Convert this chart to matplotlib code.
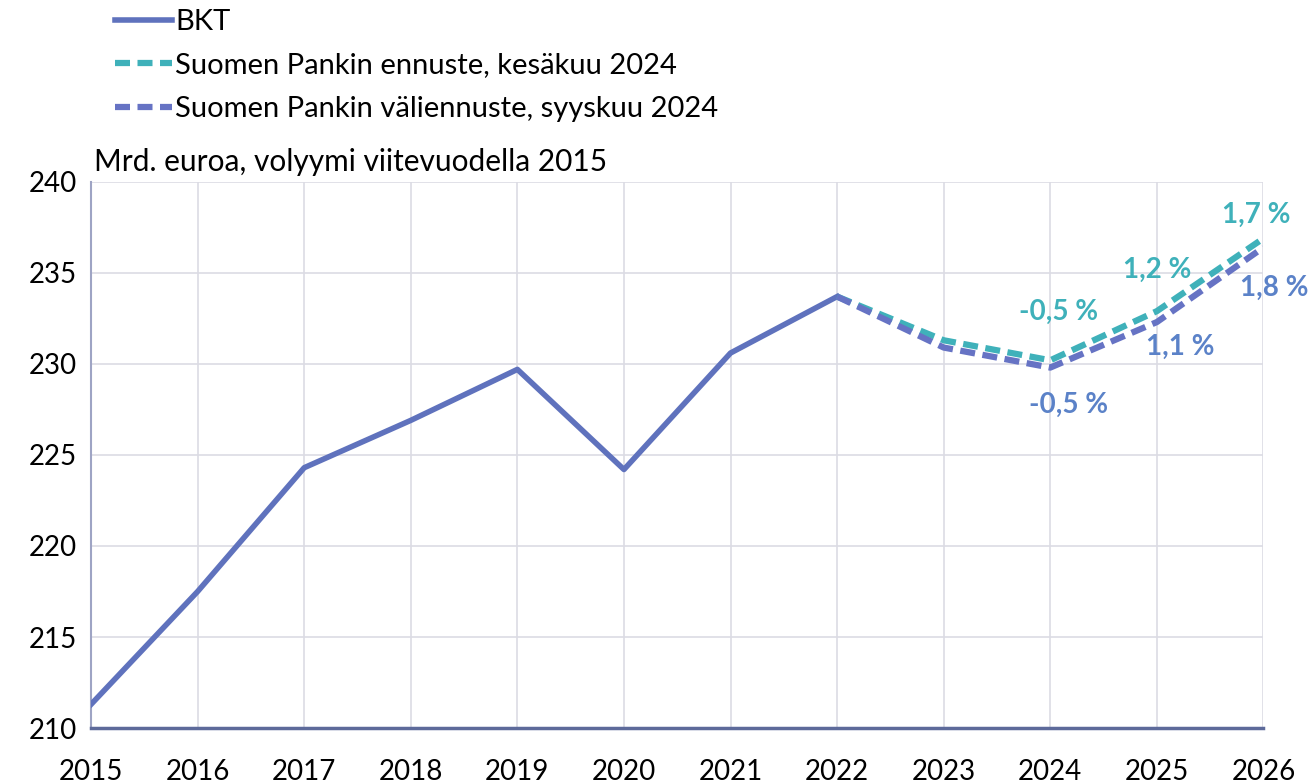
import numpy as np
import matplotlib.pyplot as plt

plt.rcParams['font.family'] = ['Lato', 'DejaVu Sans']

years = [2015, 2016, 2017, 2018, 2019, 2020, 2021, 2022]
bkt = [211.3, 217.5, 224.3, 226.9, 229.7, 224.2, 230.6, 233.7]

fc_years = [2022, 2023, 2024, 2025, 2026]
june = [233.7, 231.3, 230.2, 232.9, 236.9]
sept = [233.7, 230.9, 229.8, 232.3, 236.4]

lab_years = [2024, 2025, 2026]
june_labels = ['-0,5 %', '1,2 %', '1,7 %']
sept_labels = ['-0,5 %', '1,1 %', '1,8 %']

c_bkt = '#5f72bd'
c_june = '#3fb1ba'
c_sept = '#6673c4'
c_sept_txt = '#5b82c8'

fig = plt.figure(figsize=(13.12, 7.84), dpi=100)
ax = fig.add_axes([0.0694, 0.0714, 0.8936, 0.6966])

ax.plot(years, bkt, color=c_bkt, lw=4, label='BKT', zorder=3)
ax.plot(fc_years, june, color=c_june, lw=4.5, ls=(0, (2.4, 1.2)),
        label='Suomen Pankin ennuste, kesäkuu 2024', zorder=4)
ax.plot(fc_years, sept, color=c_sept, lw=4.5, ls=(0, (2.4, 1.2)),
        label='Suomen Pankin väliennuste, syyskuu 2024', zorder=4)

# growth labels, offsets in points from the data point
june_off = [(6, 35), (0, 30), (-5, 17)]
sept_off = [(13, -27), (17, -18), (8, -29)]
for x, y, t, off in zip(lab_years, june[2:], june_labels, june_off):
    ax.annotate(t, (x, y), xytext=off, textcoords='offset points', color=c_june,
                fontsize=20, fontweight='bold', ha='center', va='center',
                annotation_clip=False)
for x, y, t, off in zip(lab_years, sept[2:], sept_labels, sept_off):
    ax.annotate(t, (x, y), xytext=off, textcoords='offset points', color=c_sept_txt,
                fontsize=20, fontweight='bold', ha='center', va='center',
                annotation_clip=False)

ax.set_xlim(2015, 2026)
ax.set_ylim(210, 240)
ax.set_xticks(range(2015, 2027))
ax.set_yticks(range(210, 241, 5))
ax.grid(True, color='#dcdce4', lw=1.2)
ax.set_axisbelow(True)
ax.tick_params(length=0, labelsize=20, pad=10)
ax.tick_params(axis='x', pad=22)
for s in ['top', 'right']:
    ax.spines[s].set_visible(False)
ax.spines['left'].set_color('#9ea4c4')
ax.spines['left'].set_linewidth(1.5)
ax.spines['bottom'].set_color('#5d6a9a')
ax.spines['bottom'].set_linewidth(2.5)

fig.text(0.072, 0.793, 'Mrd. euroa, volyymi viitevuodella 2015', fontsize=21.5,
         ha='left', va='center')

fig.legend(loc='upper left', bbox_to_anchor=(0.068, 1.022), frameon=False,
           fontsize=21, handlelength=1.95, handletextpad=0.1, labelspacing=0.6)

fig.savefig('out.png', dpi=100)
